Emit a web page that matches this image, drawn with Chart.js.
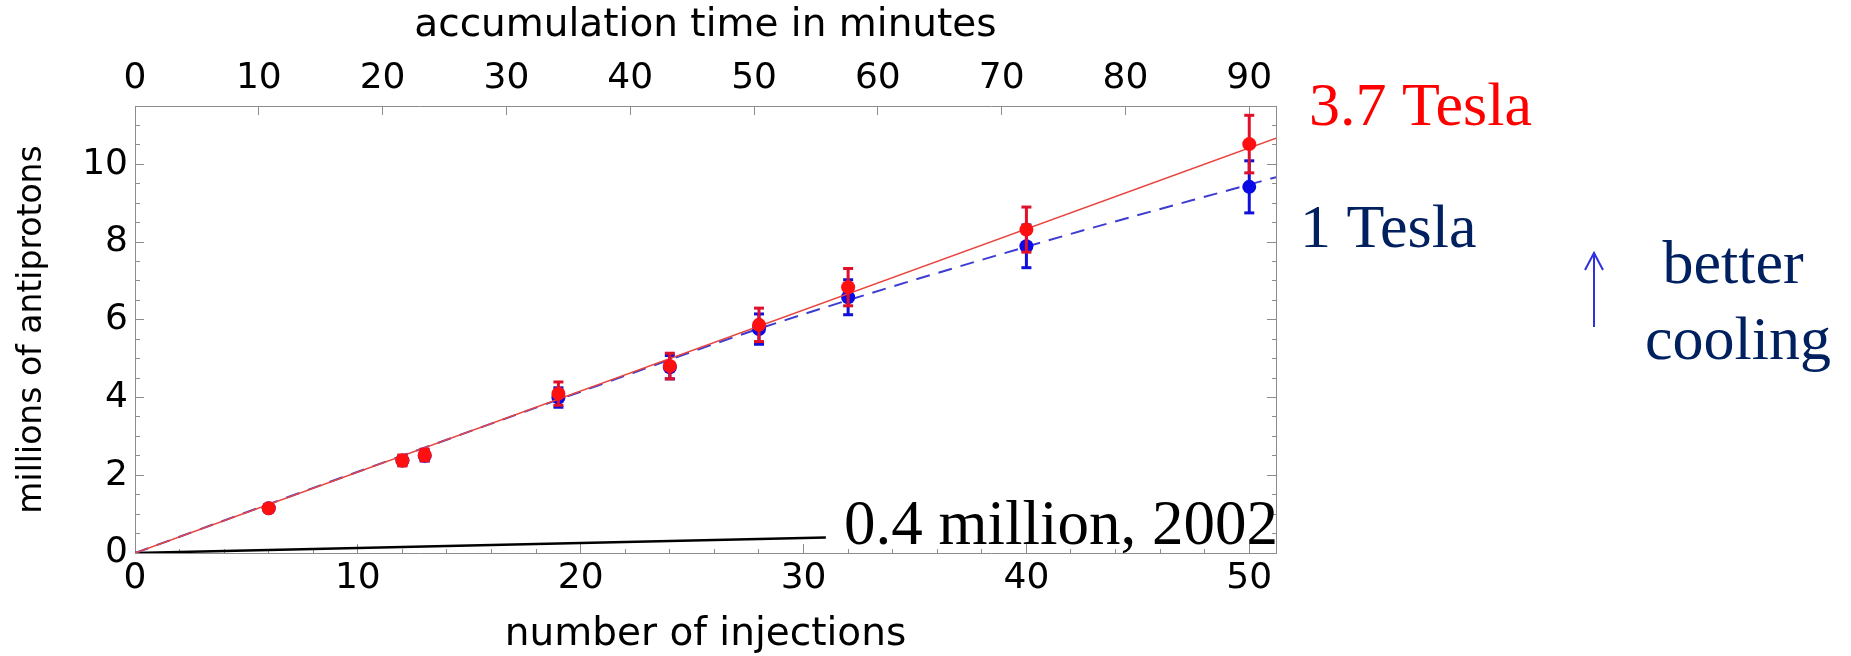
<!DOCTYPE html>
<html>
<head>
<meta charset="utf-8">
<script src="https://cdn.jsdelivr.net/npm/chart.js@4.4.1/dist/chart.umd.min.js"></script>
<style>
  html, body { margin: 0; padding: 0; background: #ffffff; }
  #wrap { position: relative; width: 1851px; height: 656px; }
  canvas { display: block; }
</style>
</head>
<body>
<div id="wrap"><canvas id="c" width="1851" height="656"></canvas></div>
<script>
// ---- data ----
const injections = [6, 12, 13, 19, 24, 28, 32, 40, 50];
const tesla37 = [1.15, 2.38, 2.52, 4.10, 4.81, 5.87, 6.84, 8.32, 10.52];
const tesla37Err = [0.08, 0.14, 0.15, 0.30, 0.33, 0.43, 0.48, 0.58, 0.74];
const tesla1 = [1.15, 2.38, 2.50, 4.00, 4.78, 5.76, 6.58, 7.89, 9.42];
const tesla1Err = [0.07, 0.12, 0.13, 0.25, 0.30, 0.39, 0.45, 0.55, 0.67];
const fit37X = [0, 51.2];
const fit37 = [0, 10.67];
const fit1X = [0, 10, 20, 28, 40, 51.2];
const fit1 = [0, 2.09, 4.15, 5.77, 7.88, 9.67];
const line2002X = [0, 31];
const line2002Y = [0, 0.4];
const xRange = [0, 51.2];        // number of injections
const minutesRange = [0, 92.16]; // accumulation time in minutes (1.8 min per injection)
const yRange = [0, 11.5];        // millions of antiprotons

// ---- helpers building library data from the arrays ----
function pts(xs, ys) { return xs.map((x, i) => ({x: x, y: ys[i]})); }
function bars(xs, ys, es) {
  const out = [];
  xs.forEach((x, i) => {
    out.push({x: x, y: ys[i] - es[i]});
    out.push({x: x, y: ys[i] + es[i]});
    out.push({x: x, y: null});
  });
  return out;
}
function caps(xs, ys, es) {
  const out = [];
  xs.forEach((x, i) => {
    out.push({x: x, y: ys[i] - es[i]});
    out.push({x: x, y: ys[i] + es[i]});
  });
  return out;
}

const RED = '#ff1010', RED_BAR = '#e0102a', RED_LINE = '#e8453f';
const BLUE = '#0a0ae6', BLUE_BAR = '#1010d8', BLUE_LINE = '#3c3cd2';
const AXIS = '#8c8c8c';
const SANS = 'DejaVu Sans';

const datasets = [
  {label: '3.7 T', data: pts(injections, tesla37), pointRadius: 7, pointBackgroundColor: RED, pointBorderWidth: 0, showLine: false},
  {label: '3.7 T caps', data: caps(injections, tesla37, tesla37Err), pointStyle: 'line', pointRadius: 5, pointBorderColor: RED_BAR, pointBorderWidth: 3, showLine: false},
  {label: '3.7 T bars', data: bars(injections, tesla37, tesla37Err), showLine: true, spanGaps: false, borderColor: RED_BAR, borderWidth: 3, pointRadius: 0},
  {label: '3.7 T fit', data: pts(fit37X, fit37), showLine: true, borderColor: RED_LINE, borderWidth: 1.6, pointRadius: 0},
  {label: '1 T', data: pts(injections, tesla1), pointRadius: 7, pointBackgroundColor: BLUE, pointBorderWidth: 0, showLine: false},
  {label: '1 T caps', data: caps(injections, tesla1, tesla1Err), pointStyle: 'line', pointRadius: 5, pointBorderColor: BLUE_BAR, pointBorderWidth: 3, showLine: false},
  {label: '1 T bars', data: bars(injections, tesla1, tesla1Err), showLine: true, spanGaps: false, borderColor: BLUE_BAR, borderWidth: 3, pointRadius: 0},
  {label: '1 T fit', data: pts(fit1X, fit1), showLine: true, borderColor: BLUE_LINE, borderWidth: 2, borderDash: [14, 9], pointRadius: 0, cubicInterpolationMode: 'monotone'},
  {label: '2002', data: pts(line2002X, line2002Y), showLine: true, borderColor: '#000000', borderWidth: 2.5, pointRadius: 0}
];
datasets.forEach(d => { d.xAxisID = 'x'; d.yAxisID = 'y'; });

function gridOpts(majorEvery, dashFromBorder) {
  return {
    drawOnChartArea: false,
    drawTicks: true,
    tickLength: -9,
    tickColor: AXIS,
    tickWidth: 1,
    tickBorderDash: (ctx) => {
      const v = ctx.tick ? ctx.tick.value : 0;
      const major = Math.abs(v / majorEvery - Math.round(v / majorEvery)) < 1e-6;
      if (major) return [];
      return dashFromBorder ? [5, 100] : [0, 4, 5, 100];
    }
  };
}

const annotations = {
  id: 'annotations',
  afterDraw(chart) {
    const c = chart.ctx;
    c.save();
    c.textBaseline = 'alphabetic';
    c.textAlign = 'left';
    c.font = '62px "Liberation Serif"';
    c.fillStyle = '#ff0000';
    c.fillText('3.7 Tesla', 1309, 125);
    c.fillStyle = '#002060';
    c.fillText('1 Tesla', 1300, 247);
    c.textAlign = 'center';
    c.fillText('better', 1733, 283);
    c.fillText('cooling', 1738, 359);
    c.textAlign = 'left';
    c.fillStyle = '#000000';
    c.font = '63px "Liberation Serif"';
    c.fillText('0.4 million, 2002', 844, 544);
    // arrow
    c.strokeStyle = '#3030e0';
    c.lineWidth = 2;
    c.beginPath();
    c.moveTo(1594, 327); c.lineTo(1594, 253);
    c.moveTo(1585, 270); c.lineTo(1594, 253); c.lineTo(1603, 270);
    c.stroke();
    c.restore();
  }
};

new Chart(document.getElementById('c'), {
  type: 'scatter',
  data: {datasets: datasets},
  plugins: [annotations],
  options: {
    responsive: false,
    animation: false,
    layout: {padding: {left: 0, top: 0, right: 575, bottom: 0}},
    plugins: {legend: {display: false}, tooltip: {enabled: false}},
    scales: {
      x: {
        type: 'linear', position: 'bottom', min: xRange[0], max: xRange[1],
        afterFit: (s) => { s.height = 103; },
        border: {display: true, color: AXIS, width: 1},
        grid: gridOpts(10, true),
        ticks: {stepSize: 2, includeBounds: false, autoSkip: false, maxRotation: 0, padding: 17, color: '#000',
          font: {family: SANS, size: 36, lineHeight: 1},
          callback: (v) => (v % 10 === 0 ? String(v) : '')},
        title: {display: true, text: 'number of injections', color: '#000',
          font: {family: SANS, size: 39, lineHeight: 1}, padding: {top: 0, bottom: 2}}
      },
      x2: {
        type: 'linear', position: 'top', min: minutesRange[0], max: minutesRange[1],
        afterFit: (s) => { s.height = 106; },
        border: {display: true, color: AXIS, width: 1},
        grid: gridOpts(10, false),
        ticks: {stepSize: 10, includeBounds: false, autoSkip: false, maxRotation: 0, padding: 18, color: '#000',
          font: {family: SANS, size: 36, lineHeight: 1}},
        title: {display: true, text: 'accumulation time in minutes', color: '#000',
          font: {family: SANS, size: 39, lineHeight: 1}, padding: {top: 6, bottom: 0}}
      },
      y: {
        type: 'linear', position: 'left', min: yRange[0], max: yRange[1],
        afterFit: (s) => { s.width = 135; },
        border: {display: true, color: AXIS, width: 1},
        grid: gridOpts(2, false),
        ticks: {stepSize: 0.5, includeBounds: false, autoSkip: false, padding: 16, color: '#000',
          font: {family: SANS, size: 36, lineHeight: 1},
          callback: (v) => (Math.abs(v % 2) < 1e-9 ? String(v) : '')},
        title: {display: true, text: 'millions of antiprotons', color: '#000',
          font: {family: SANS, size: 33, lineHeight: 1}, padding: {top: 16, bottom: 0}}
      },
      y2: {
        type: 'linear', position: 'right', min: yRange[0], max: yRange[1],
        afterFit: (s) => { s.width = 0; },
        border: {display: true, color: AXIS, width: 1},
        grid: gridOpts(2, true),
        ticks: {stepSize: 0.5, includeBounds: false, display: false}
      }
    }
  }
});
</script>
</body>
</html>
